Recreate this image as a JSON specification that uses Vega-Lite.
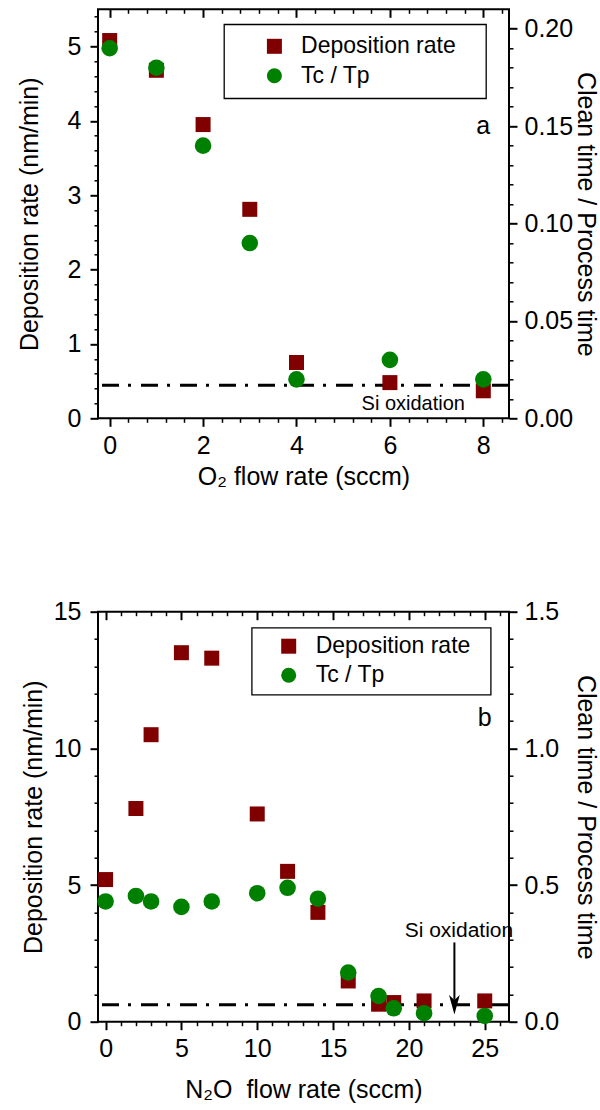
{
  "$schema": "https://vega.github.io/schema/vega-lite/v6.json",
  "background": "white",
  "padding": {"left": 16, "top": 7.3, "right": 4, "bottom": 0},
  "bounds": "flush",
  "spacing": 193.4,
  "config": {
    "font": "Liberation Sans",
    "view": {"stroke": "#000", "strokeWidth": 2},
    "axis": {
      "grid": false, "domain": false, "labelFlush": false, "labelOverlap": false,
      "labelFont": "Liberation Sans", "titleFont": "Liberation Sans",
      "labelFontSize": 25, "titleFontSize": 25, "titleFontWeight": "normal",
      "labelColor": "#000", "titleColor": "#000", "tickColor": "#000", "tickWidth": 2
    },
    "legend": {
      "labelFont": "Liberation Sans", "labelFontSize": 23, "labelColor": "#000", "labelLimit": 500,
      "symbolSize": 225, "symbolStrokeWidth": 0, "symbolOpacity": 1,
      "strokeColor": "#000", "strokeWidth": 1.3, "fillColor": "#fff"
    }
  },
  "resolve": {"scale": {"color": "independent", "shape": "independent"}, "legend": {"color": "independent", "shape": "independent"}},
  "vconcat": [
    {
      "width": 411, "height": 409,
      "data": {"values": [
        {"x": 0, "dep": 5.08, "tc": 0.19},
        {"x": 1, "dep": 4.68, "tc": 0.18},
        {"x": 2, "dep": 3.95, "tc": 0.14},
        {"x": 3, "dep": 2.81, "tc": 0.09},
        {"x": 4, "dep": 0.75, "tc": 0.02},
        {"x": 6, "dep": 0.48, "tc": 0.03},
        {"x": 8, "dep": 0.37, "tc": 0.02}
      ]},
      "resolve": {"scale": {"y": "independent"}, "axis": {"x": "independent", "y": "independent"}},
      "layer": [
        {
          "data": {"values": [{"lvl": 0.445}]},
          "mark": {"type": "rule", "color": "#000", "strokeWidth": 3, "strokeDash": [17, 10, 3, 9]},
          "encoding": {
            "y": {"field": "lvl", "type": "quantitative", "scale": {"domain": [0, 5.5], "nice": false, "zero": false},
              "axis": {"orient": "left", "values": [0.2,0.4,0.6,0.8,1.2,1.4,1.6,1.8,2.2,2.4,2.6,2.8,3.2,3.4,3.6,3.8,4.2,4.4,4.6,4.8,5.2,5.4], "tickSize": 4, "tickWidth": 1.5, "labels": false, "title": null}}
          }
        },
        {
          "mark": {"type": "point", "filled": true, "size": 225, "opacity": 1},
          "encoding": {
            "x": {"field": "x", "type": "quantitative", "scale": {"domain": [-0.25, 8.55], "nice": false, "zero": false},
              "axis": {"orient": "bottom", "values": [0, 2, 4, 6, 8], "tickSize": 8, "labelPadding": 7, "title": "O₂ flow rate (sccm)", "titleBaseline": "alphabetic", "titleY": 66.7}},
            "y": {"field": "dep", "type": "quantitative", "scale": {"domain": [0, 5.5], "nice": false, "zero": false},
              "axis": {"orient": "left", "values": [0, 1, 2, 3, 4, 5], "tickSize": 8, "labelPadding": 9, "title": "Deposition rate (nm/min)", "titleX": -56}},
            "color": {"datum": "Deposition rate", "type": "nominal",
              "scale": {"domain": ["Deposition rate", "Tc / Tp"], "range": ["#800000", "#008000"]},
              "legend": {"title": null, "orient": "none", "legendX": 126, "legendY": 15, "padding": 10.5, "symbolOffset": 28.4, "labelOffset": 15.2, "rowPadding": 5.5, "labelExpr": "datum.label + '\u00a0\u00a0\u00a0\u200b'"}},
            "shape": {"datum": "Deposition rate", "type": "nominal",
              "scale": {"domain": ["Deposition rate", "Tc / Tp"], "range": ["square", "circle"]},
              "legend": {"title": null, "orient": "none", "legendX": 126, "legendY": 15, "padding": 10.5, "symbolOffset": 28.4, "labelOffset": 15.2, "rowPadding": 5.5, "labelExpr": "datum.label + '\u00a0\u00a0\u00a0\u200b'"}}
          }
        },
        {
          "mark": {"type": "point", "filled": true, "size": 275, "opacity": 1},
          "encoding": {
            "x": {"field": "x", "type": "quantitative", "scale": {"domain": [-0.25, 8.55], "nice": false, "zero": false},
              "axis": {"orient": "bottom", "values": [0.4,0.8,1.2,1.6,2.4,2.8,3.2,3.6,4.4,4.8,5.2,5.6,6.4,6.8,7.2,7.6,8.4], "tickSize": 4, "tickWidth": 1.5, "labels": false, "title": null}},
            "y": {"field": "tc", "type": "quantitative", "scale": {"domain": [0, 0.21], "nice": false, "zero": false},
              "axis": {"orient": "right", "values": [0, 0.05, 0.1, 0.15, 0.2], "format": ".2f", "tickSize": 8, "labelPadding": 7, "title": "Clean time / Process time", "titleX": 64}},
            "color": {"datum": "Tc / Tp", "type": "nominal",
              "scale": {"domain": ["Deposition rate", "Tc / Tp"], "range": ["#800000", "#008000"]},
              "legend": {"title": null, "orient": "none", "legendX": 126, "legendY": 15, "padding": 10.5, "symbolOffset": 28.4, "labelOffset": 15.2, "rowPadding": 5.5, "labelExpr": "datum.label + '\u00a0\u00a0\u00a0\u200b'"}},
            "shape": {"datum": "Tc / Tp", "type": "nominal",
              "scale": {"domain": ["Deposition rate", "Tc / Tp"], "range": ["square", "circle"]},
              "legend": {"title": null, "orient": "none", "legendX": 126, "legendY": 15, "padding": 10.5, "symbolOffset": 28.4, "labelOffset": 15.2, "rowPadding": 5.5, "labelExpr": "datum.label + '\u00a0\u00a0\u00a0\u200b'"}}
          }
        },
        {
          "data": {"values": [{"tx": 8, "ty": 0.15, "t": "a"}]},
          "mark": {"type": "text", "fontSize": 25, "font": "Liberation Sans", "color": "#000", "align": "center", "baseline": "middle"},
          "encoding": {
            "x": {"field": "tx", "type": "quantitative", "scale": {"domain": [-0.25, 8.55], "nice": false, "zero": false},
              "axis": {"orient": "top", "values": [0, 2, 4, 6, 8], "tickSize": -8, "labels": false, "title": null}},
            "y": {"field": "ty", "type": "quantitative", "scale": {"domain": [0, 0.21], "nice": false, "zero": false},
              "axis": {"orient": "right", "values": [0.01,0.02,0.03,0.04,0.06,0.07,0.08,0.09,0.11,0.12,0.13,0.14,0.16,0.17,0.18,0.19], "tickSize": 4, "tickWidth": 1.5, "labels": false, "title": null}},
            "text": {"field": "t"}
          }
        },
        {
          "data": {"values": [{"tx": 6.5, "ty": 0.19, "t": "Si oxidation"}]},
          "mark": {"type": "text", "fontSize": 20, "font": "Liberation Sans", "color": "#000", "align": "center", "baseline": "middle"},
          "encoding": {
            "x": {"field": "tx", "type": "quantitative", "scale": {"domain": [-0.25, 8.55], "nice": false, "zero": false},
              "axis": {"orient": "top", "values": [0.4,0.8,1.2,1.6,2.4,2.8,3.2,3.6,4.4,4.8,5.2,5.6,6.4,6.8,7.2,7.6,8.4], "tickSize": -4, "tickWidth": 1.5, "labels": false, "title": null}},
            "y": {"field": "ty", "type": "quantitative", "scale": {"domain": [0, 5.5], "nice": false, "zero": false}, "axis": null},
            "text": {"field": "t"}
          }
        }
      ]
    },
    {
      "width": 411, "height": 410,
      "data": {"values": [
        {"x": 0, "dep": 5.2, "tc": 0.44},
        {"x": 2, "dep": 7.8, "tc": 0.46},
        {"x": 3, "dep": 10.5, "tc": 0.44},
        {"x": 5, "dep": 13.5, "tc": 0.42},
        {"x": 7, "dep": 13.3, "tc": 0.44},
        {"x": 10, "dep": 7.6, "tc": 0.47},
        {"x": 12, "dep": 5.5, "tc": 0.49},
        {"x": 14, "dep": 4.0, "tc": 0.45},
        {"x": 16, "dep": 1.49, "tc": 0.18},
        {"x": 18, "dep": 0.64, "tc": 0.094},
        {"x": 19, "dep": 0.7, "tc": 0.049},
        {"x": 21, "dep": 0.76, "tc": 0.031},
        {"x": 25, "dep": 0.76, "tc": 0.021}
      ]},
      "resolve": {"scale": {"y": "independent"}, "axis": {"x": "independent", "y": "independent"}},
      "layer": [
        {
          "data": {"values": [{"lvl": 0.62}]},
          "mark": {"type": "rule", "color": "#000", "strokeWidth": 3, "strokeDash": [17, 10, 3, 9]},
          "encoding": {
            "y": {"field": "lvl", "type": "quantitative", "scale": {"domain": [0, 15], "nice": false, "zero": false},
              "axis": {"orient": "left", "values": [1,2,3,4,6,7,8,9,11,12,13,14], "tickSize": 4, "tickWidth": 1.5, "labels": false, "title": null}}
          }
        },
        {
          "mark": {"type": "point", "filled": true, "size": 225, "opacity": 1},
          "encoding": {
            "x": {"field": "x", "type": "quantitative", "scale": {"domain": [-0.5, 26.6], "nice": false, "zero": false},
              "axis": {"orient": "bottom", "values": [0, 5, 10, 15, 20, 25], "tickSize": 8, "labelPadding": 7, "title": "N₂O\u00a0 flow rate (sccm)", "titleBaseline": "alphabetic", "titleY": 76.3}},
            "y": {"field": "dep", "type": "quantitative", "scale": {"domain": [0, 15], "nice": false, "zero": false},
              "axis": {"orient": "left", "values": [0, 5, 10, 15], "tickSize": 8, "labelPadding": 9, "title": "Deposition rate (nm/min)", "titleX": -52}},
            "color": {"datum": "Deposition rate", "type": "nominal",
              "scale": {"domain": ["Deposition rate", "Tc / Tp"], "range": ["#800000", "#008000"]},
              "legend": {"title": null, "orient": "none", "legendX": 153.7, "legendY": 16, "padding": 7, "symbolOffset": 18.5, "labelOffset": 15.5, "rowPadding": 5, "labelExpr": "datum.label + '\u00a0\u00a0\u200b'"}},
            "shape": {"datum": "Deposition rate", "type": "nominal",
              "scale": {"domain": ["Deposition rate", "Tc / Tp"], "range": ["square", "circle"]},
              "legend": {"title": null, "orient": "none", "legendX": 153.7, "legendY": 16, "padding": 7, "symbolOffset": 18.5, "labelOffset": 15.5, "rowPadding": 5, "labelExpr": "datum.label + '\u00a0\u00a0\u200b'"}}
          }
        },
        {
          "mark": {"type": "point", "filled": true, "size": 275, "opacity": 1},
          "encoding": {
            "x": {"field": "x", "type": "quantitative", "scale": {"domain": [-0.5, 26.6], "nice": false, "zero": false},
              "axis": {"orient": "bottom", "values": [1,2,3,4,6,7,8,9,11,12,13,14,16,17,18,19,21,22,23,24,26], "tickSize": 4, "tickWidth": 1.5, "labels": false, "title": null}},
            "y": {"field": "tc", "type": "quantitative", "scale": {"domain": [0, 1.5], "nice": false, "zero": false},
              "axis": {"orient": "right", "values": [0, 0.5, 1, 1.5], "format": ".1f", "tickSize": 8, "labelPadding": 7, "title": "Clean time / Process time", "titleX": 64}},
            "color": {"datum": "Tc / Tp", "type": "nominal",
              "scale": {"domain": ["Deposition rate", "Tc / Tp"], "range": ["#800000", "#008000"]},
              "legend": {"title": null, "orient": "none", "legendX": 153.7, "legendY": 16, "padding": 7, "symbolOffset": 18.5, "labelOffset": 15.5, "rowPadding": 5, "labelExpr": "datum.label + '\u00a0\u00a0\u200b'"}},
            "shape": {"datum": "Tc / Tp", "type": "nominal",
              "scale": {"domain": ["Deposition rate", "Tc / Tp"], "range": ["square", "circle"]},
              "legend": {"title": null, "orient": "none", "legendX": 153.7, "legendY": 16, "padding": 7, "symbolOffset": 18.5, "labelOffset": 15.5, "rowPadding": 5, "labelExpr": "datum.label + '\u00a0\u00a0\u200b'"}}
          }
        },
        {
          "data": {"values": [{"tx": 25, "ty": 1.11, "t": "b"}]},
          "mark": {"type": "text", "fontSize": 25, "font": "Liberation Sans", "color": "#000", "align": "center", "baseline": "middle"},
          "encoding": {
            "x": {"field": "tx", "type": "quantitative", "scale": {"domain": [-0.5, 26.6], "nice": false, "zero": false},
              "axis": {"orient": "top", "values": [0, 5, 10, 15, 20, 25], "tickSize": -8, "labels": false, "title": null}},
            "y": {"field": "ty", "type": "quantitative", "scale": {"domain": [0, 1.5], "nice": false, "zero": false},
              "axis": {"orient": "right", "values": [0.1,0.2,0.3,0.4,0.6,0.7,0.8,0.9,1.1,1.2,1.3,1.4], "tickSize": 4, "tickWidth": 1.5, "labels": false, "title": null}},
            "text": {"field": "t"}
          }
        },
        {
          "data": {"values": [{"tx": 23.3, "ty": 3.33, "t": "Si oxidation"}]},
          "mark": {"type": "text", "fontSize": 21, "font": "Liberation Sans", "color": "#000", "align": "center", "baseline": "middle"},
          "encoding": {
            "x": {"field": "tx", "type": "quantitative", "scale": {"domain": [-0.5, 26.6], "nice": false, "zero": false},
              "axis": {"orient": "top", "values": [1,2,3,4,6,7,8,9,11,12,13,14,16,17,18,19,21,22,23,24,26], "tickSize": -4, "tickWidth": 1.5, "labels": false, "title": null}},
            "y": {"field": "ty", "type": "quantitative", "scale": {"domain": [0, 15], "nice": false, "zero": false}, "axis": null},
            "text": {"field": "t"}
          }
        },
        {
          "data": {"values": [{"ax": 23, "ay": 2.9, "ay2": 0.8}]},
          "mark": {"type": "rule", "color": "#000", "strokeWidth": 2},
          "encoding": {
            "x": {"field": "ax", "type": "quantitative", "scale": {"domain": [-0.5, 26.6], "nice": false, "zero": false}, "axis": null},
            "y": {"field": "ay", "type": "quantitative", "scale": {"domain": [0, 15], "nice": false, "zero": false}, "axis": null},
            "y2": {"field": "ay2"}
          }
        },
        {
          "data": {"values": [{"ax": 23, "ay": 0.62}]},
          "mark": {"type": "point", "filled": true, "opacity": 1, "color": "#000", "size": 380, "shape": "M-0.55,-1L0,1L0.55,-1L0,-0.5Z"},
          "encoding": {
            "x": {"field": "ax", "type": "quantitative", "scale": {"domain": [-0.5, 26.6], "nice": false, "zero": false}, "axis": null},
            "y": {"field": "ay", "type": "quantitative", "scale": {"domain": [0, 15], "nice": false, "zero": false}, "axis": null}
          }
        }
      ]
    }
  ]
}
